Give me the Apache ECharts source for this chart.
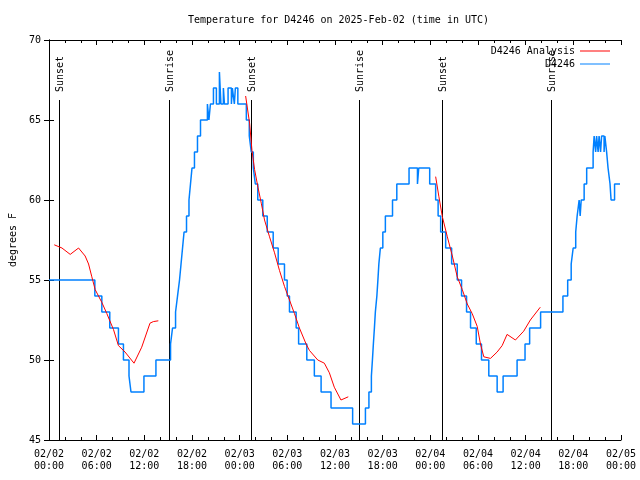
<!DOCTYPE html>
<html>
<head>
<meta charset="utf-8">
<script src="https://cdn.jsdelivr.net/npm/echarts@6/dist/echarts.min.js"></script>
<style>
html,body{margin:0;padding:0;background:#fff;}
#c{width:640px;height:480px;}
</style>
</head>
<body>
<div id="c"></div>
<script>
// Hours since 2025-02-02 00:00 UTC
const obsHours = [0.00,5.77,6.65,7.65,8.74,9.37,10.07,10.32,11.95,13.46,15.30,15.55,15.93,16.18,16.43,16.62,16.81,17.00,17.31,17.62,17.81,18.00,18.31,18.69,19.07,19.94,20.13,20.32,20.70,21.07,21.45,21.64,21.95,22.08,22.54,22.96,23.08,23.33,23.46,23.77,24.84,25.21,25.46,25.72,25.97,26.28,26.91,27.47,28.22,28.85,29.64,29.98,30.27,31.11,31.42,32.45,33.40,34.25,35.50,38.22,39.83,40.27,40.58,40.71,40.83,40.96,41.08,41.27,41.40,41.52,41.71,42.02,42.34,43.24,43.78,45.32,46.38,46.54,47.92,48.67,48.98,49.30,49.93,50.68,51.39,51.93,52.56,53.06,53.78,54.44,55.36,56.41,57.16,58.92,59.92,60.50,61.88,64.69,65.29,65.73,65.98,66.30,66.48,66.73,66.86,66.99,67.36,67.68,68.49,68.62,68.81,68.93,69.12,69.24,69.43,69.56,69.87,69.97,70.19,70.37,70.62,70.75,71.19,71.88];
const obsTemps = [55,54,53,52,51,50,49,48,49,50,51,52,53,54,55,56,57,58,59,60,61,62,63,64,65,66,65,66,67,66,68,66,67,66,67,66,67,66,67,66,65,64,63,62,61,60,59,58,57,56,55,54,53,52,51,50,49,48,47,46,47,48,49,50,51,52,53,54,55,56,57,58,59,60,61,62,61,62,61,60,59,58,57,56,55,54,53,52,51,50,49,48,49,50,51,52,53,54,55,56,57,58,59,60,59,60,61,62,63,64,63,64,63,64,63,64,63,64,63,62,61,60,61,61];

const anaHours1 = [0.66,1.63,2.67,3.72,4.55,4.98,5.39,5.81,6.65,7.28,8.12,8.74,9.57,10.70,11.67,12.71,13.13,13.76];
const anaTemps1 = [57.2,57.0,56.6,57.0,56.5,56.0,55.2,54.4,53.6,52.9,51.9,50.9,50.5,49.8,50.8,52.3,52.4,52.45];
const anaHours2 = [24.75,25.25,25.55,25.88,26.30,26.72,27.13,27.76,28.39,29.01,29.64,30.27,30.90,31.52,32.36,32.78,33.83,34.66,35.29,35.91,36.75,37.67];
const anaTemps2 = [66.5,64.8,63.1,61.9,60.8,59.8,58.75,57.7,56.7,55.6,54.6,53.75,52.9,52.0,51.0,50.6,50.0,49.8,49.2,48.3,47.5,47.7];
const anaHours3 = [48.67,49.08,49.51,50.14,50.77,51.39,52.02,52.65,53.27,53.90,54.31,54.73,55.57,56.41,57.04,57.66,58.71,59.75,60.59,61.84];
const anaTemps3 = [61.46,60.2,58.96,57.7,56.5,55.2,54.4,53.5,52.9,52.1,51.0,50.2,50.1,50.5,50.9,51.6,51.25,51.8,52.5,53.3];

const sunHours = [1.29,15.09,25.38,39.05,49.46,63.13];
const sunLabels = ['Sunset','Sunrise','Sunset','Sunrise','Sunset','Sunrise'];

const yTicks = [45,50,55,60,65,70];

const FONT = 'DejaVu Sans Mono';
function pair(h, v){ return h.map((x,i)=>[x, v[i]]); }

const chart = echarts.init(document.getElementById('c'), null, {renderer:'canvas'});

function xLabel(h){
  const day = 2 + Math.floor(h/24);
  const hr = Math.round(h % 24);
  return '02/' + String(day).padStart(2,'0') + '\n' + String(hr).padStart(2,'0') + ':00';
}

const axisCommon = {
  axisLine:{show:true, lineStyle:{color:'#000', width:1}},
  splitLine:{show:false}
};

const option = {
  animation:false,
  backgroundColor:'#fff',
  title:{
    text:'Temperature for D4246 on 2025-Feb-02 (time in UTC)',
    left:183, top:10,
    textStyle:{fontFamily:FONT, fontSize:10, fontWeight:'normal', color:'#000'}
  },
  legend:[
    {data:['D4246 Analysis'], right:30, top:46, orient:'vertical', align:'right', padding:0,
     itemWidth:30, itemHeight:1, icon:'rect', itemGap:0,
     textStyle:{fontFamily:FONT, fontSize:10, color:'#000'}},
    {data:['D4246'], right:30, top:59, orient:'vertical', align:'right', padding:0,
     itemWidth:30, itemHeight:1, icon:'rect', itemGap:0,
     textStyle:{fontFamily:FONT, fontSize:10, color:'#000'}}
  ],
  grid:{left:47, top:40, width:574, height:400, containLabel:false},
  xAxis:[
    Object.assign({}, axisCommon, {
      type:'value', min:0, max:72, interval:6, position:'bottom',
      axisTick:{show:true, inside:true, length:5, lineStyle:{color:'#000'}},
      minorTick:{show:true, splitNumber:3, length:3, lineStyle:{color:'#000'}},
      axisLabel:{formatter:xLabel, fontFamily:FONT, fontSize:10, color:'#000', margin:8, lineHeight:12}
    }),
    Object.assign({}, axisCommon, {
      type:'value', min:0, max:72, interval:6, position:'top',
      axisTick:{show:true, inside:true, length:5, lineStyle:{color:'#000'}},
      minorTick:{show:true, splitNumber:3, length:3, lineStyle:{color:'#000'}},
      axisLabel:{show:false}
    })
  ],
  yAxis:[
    Object.assign({}, axisCommon, {
      type:'value', min:yTicks[0], max:yTicks[yTicks.length-1], interval:5, position:'left',
      name:'degrees F', nameLocation:'middle', nameGap:31, nameRotate:90,
      nameTextStyle:{fontFamily:FONT, fontSize:10, color:'#000'},
      axisTick:{show:true, inside:true, length:5, lineStyle:{color:'#000'}},
      axisLabel:{fontFamily:FONT, fontSize:10, color:'#000', margin:8}
    }),
    Object.assign({}, axisCommon, {
      type:'value', min:yTicks[0], max:yTicks[yTicks.length-1], interval:5, position:'right',
      axisTick:{show:true, inside:true, length:5, lineStyle:{color:'#000'}},
      axisLabel:{show:false}
    })
  ],
  series:[
    {type:'custom', name:'sun', silent:true, z:1,
     data: sunHours.map((h,i)=>[h, i]),
     renderItem:function(params, api){
       const pBottom = api.coord([api.value(0), yTicks[0]]);
       const pTop = api.coord([api.value(0), yTicks[yTicks.length-1]]);
       const x = Math.round(pBottom[0]) + 0.5;
       const lineTop = pTop[1] + 60;
       return {type:'group', children:[
         {type:'line', shape:{x1:x, y1:pBottom[1], x2:x, y2:lineTop}, style:{stroke:'#000', lineWidth:1}},
         {type:'text', x:x+0.5, y:lineTop-8, rotation:Math.PI/2,
          style:{text:sunLabels[params.dataIndex], x:0, y:0, align:'left', verticalAlign:'middle',
                 font:'10px "DejaVu Sans Mono"', fill:'#000'}}
       ]};
     }},
    {type:'line', name:'D4246 Analysis', data:pair(anaHours1, anaTemps1), showSymbol:false, symbol:'none',
     lineStyle:{color:'#ff0000', width:1}, itemStyle:{color:'#ff0000'}, z:3},
    {type:'line', name:'D4246 Analysis', data:pair(anaHours2, anaTemps2), showSymbol:false, symbol:'none',
     lineStyle:{color:'#ff0000', width:1}, itemStyle:{color:'#ff0000'}, z:3},
    {type:'line', name:'D4246 Analysis', data:pair(anaHours3, anaTemps3), showSymbol:false, symbol:'none',
     lineStyle:{color:'#ff0000', width:1}, itemStyle:{color:'#ff0000'}, z:3},
    {type:'line', name:'D4246', data:pair(obsHours, obsTemps), step:'end', showSymbol:false, symbol:'none',
     lineStyle:{color:'#0080ff', width:1.5}, itemStyle:{color:'#0080ff'}, z:2}
  ]
};
chart.setOption(option);
</script>
</body>
</html>
